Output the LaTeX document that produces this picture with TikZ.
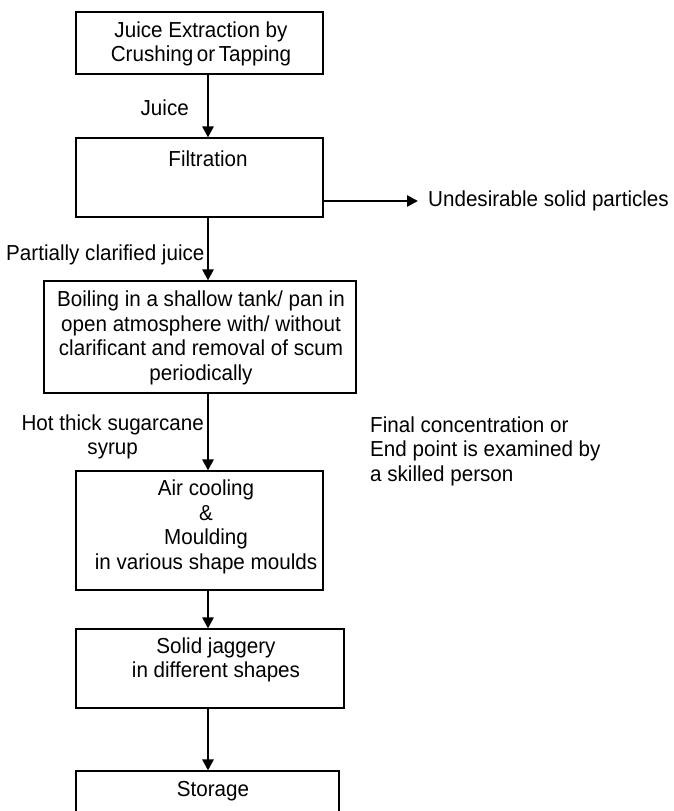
\documentclass[tikz,border=0pt]{standalone}
\usepackage{fontspec}
\setmainfont[FakeStretch=0.95]{Liberation Sans}
\usetikzlibrary{arrows.meta}
\begin{document}
\begin{tikzpicture}[x=1pt,y=-1pt,
  box/.style={draw, line width=1.1pt, inner sep=0pt},
  txt/.style={font=\fontsize{21.7}{24.5}\selectfont, inner sep=0pt, align=center},
  flow/.style={line width=2.6pt, -{Triangle[length=11pt,width=11pt]}}]
\useasboundingbox (0,0) rectangle (673,811);
\begin{scope}
\clip (0,0) rectangle (673,811);
\node[box, minimum width=247pt, minimum height=62pt] (b1) at (199.5,43) {};
\node[box, minimum width=247pt, minimum height=79pt] (b2) at (199.5,177.5) {};
\node[box, minimum width=312pt, minimum height=112pt] (b3) at (200,337) {};
\node[box, minimum width=247pt, minimum height=119pt] (b4) at (199.5,530.5) {};
\node[box, minimum width=268pt, minimum height=79pt] (b5) at (210,668.5) {};
\node[box, minimum width=263pt, minimum height=80pt] (b6) at (207.5,811) {};
\end{scope}
\coordinate (ax) at (208,0);
% texts
\node[txt] (t1) at (201,44) {Juice Extraction by\\Crushing\,or\,Tapping};
\node[txt] (t2) at (208,159) {Filtration};
\node[txt] (t3) at (201,338) {Boiling in a shallow tank/ pan in\\open atmosphere with/ without\\clarificant and removal of scum\\periodically};
\node[txt] (t4) at (206,527) {Air cooling\\\&\\Moulding\\in various shape moulds};
\node[txt] (t5) at (216,660) {Solid jaggery\\in different shapes};
\node[txt] (t6) at (213,791) {Storage};
% labels
\node[txt, anchor=east] (l1) at (189,108) {Juice};
\node[txt, anchor=west] (l2) at (428,201) {Undesirable solid particles};
\node[txt, anchor=west] (l3) at (6,255) {Partially clarified juice};
\node[txt, anchor=east, align=center] (l4) at (204,437) {Hot thick sugarcane\\syrup};
\node[txt, anchor=west, align=left] (l5) at (370,451) {Final concentration or\\End point is examined by\\a skilled person};
% connectors
\draw[flow] (b1.south -| ax) -- (b2.north -| ax);
\draw[flow] (b2.south -| ax) -- (b3.north -| ax);
\draw[flow] (b3.south -| ax) -- (b4.north -| ax);
\draw[flow] (b4.south -| ax) -- (b5.north -| ax);
\draw[flow] (b5.south -| ax) -- (b6.north -| ax);
\draw[flow] (b2.east |- l2.west) -- ([xshift=-10pt]l2.west);
\end{tikzpicture}
\end{document}
